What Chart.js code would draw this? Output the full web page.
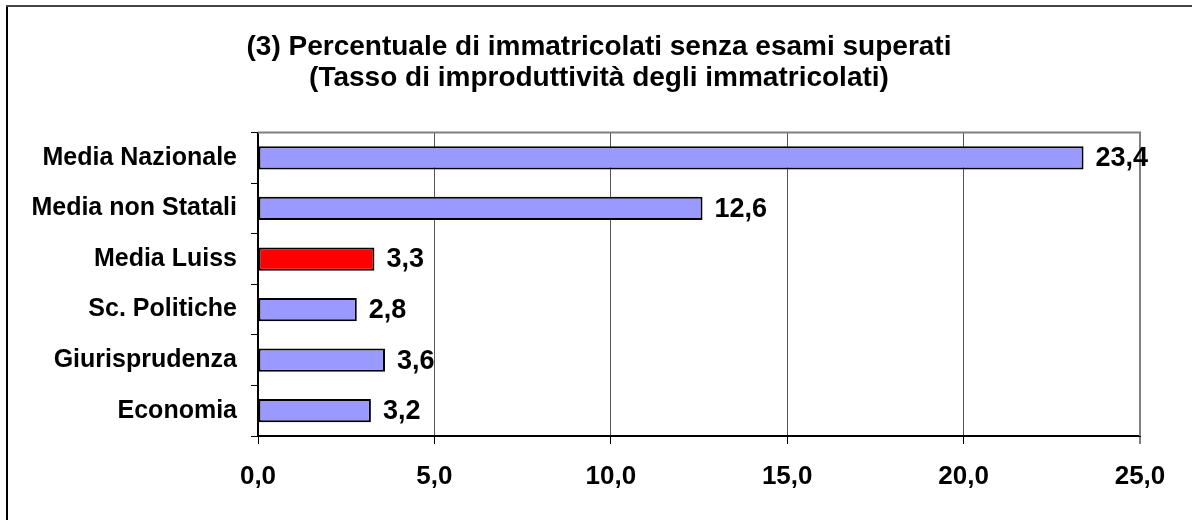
<!DOCTYPE html>
<html lang="it">
<head>
  <meta charset="UTF-8">
  <title>Tasso di improduttività</title>
  <script src="https://cdn.jsdelivr.net/npm/chart.js"></script>
  <style>
    body { margin: 0; background: #fff; }
    #wrap { width: 1192px; height: 520px; }
  </style>
</head>
<body>
  <div id="wrap"><canvas id="myChart"></canvas></div>
  <script>
    const categories = ['Media Nazionale', 'Media non Statali', 'Media Luiss', 'Sc. Politiche', 'Giurisprudenza', 'Economia'];
    const values = [23.4, 12.6, 3.3, 2.8, 3.6, 3.2];
    const barColors = ['#9999FF', '#9999FF', '#FF0000', '#9999FF', '#9999FF', '#9999FF'];
    const xTicks = [0, 5, 10, 15, 20, 25];
    const titleLines = ['(3) Percentuale di immatricolati senza esami superati', '(Tasso di improduttività degli immatricolati)'];

    const fmt = v => v.toFixed(1).replace('.', ',');
    const FONT = "'Liberation Sans', Arial, sans-serif";

    // cornice esterna + bordo grigio dell'area del grafico
    const frame = {
      id: 'frame',
      afterLayout(chart) {
        // le etichette lunghe dell'asse y non devono essere tagliate
        chart.scales.y.left = 0;
      },
      beforeDraw(chart) {
        const c = chart.ctx;
        c.save();
        c.fillStyle = '#fff';
        c.fillRect(0, 0, chart.width, chart.height);
        c.lineWidth = 2;
        c.strokeStyle = '#000';
        c.beginPath(); c.moveTo(7, chart.height); c.lineTo(7, 6); c.stroke();
        c.strokeStyle = '#444';
        c.beginPath(); c.moveTo(6, 6); c.lineTo(chart.width, 6); c.stroke();
        c.restore();
      },
      beforeDatasetsDraw(chart) {
        const a = chart.chartArea, c = chart.ctx;
        c.save();
        c.strokeStyle = '#808080';
        c.lineWidth = 2;
        c.beginPath(); c.moveTo(a.left, a.top); c.lineTo(a.right, a.top); c.lineTo(a.right, a.bottom); c.stroke();
        c.restore();
      }
    };

    // etichette dei valori a destra delle barre
    const valueLabels = {
      id: 'valueLabels',
      afterDatasetsDraw(chart) {
        const c = chart.ctx;
        const meta = chart.getDatasetMeta(0);
        c.save();
        c.font = 'bold 27px ' + FONT;
        c.fillStyle = '#000';
        c.textBaseline = 'middle';
        c.textAlign = 'left';
        meta.data.forEach((bar, i) => {
          c.fillText(fmt(values[i]), bar.x + 12, bar.y + 1);
        });
        c.restore();
      }
    };

    new Chart(document.getElementById('myChart'), {
      type: 'bar',
      data: {
        labels: categories,
        datasets: [{
          data: values,
          backgroundColor: barColors,
          borderColor: '#000',
          borderWidth: 2,
          borderSkipped: false,
          categoryPercentage: 1,
          barPercentage: 0.46
        }]
      },
      options: {
        indexAxis: 'y',
        responsive: true,
        maintainAspectRatio: false,
        animation: false,
        layout: { padding: { left: 58, right: 52, top: 0, bottom: 0 } },
        plugins: {
          legend: { display: false },
          tooltip: { enabled: false },
          title: {
            display: true,
            text: titleLines,
            color: '#000',
            font: { family: FONT, size: 28, weight: 'bold', lineHeight: 1.1 },
            padding: { top: 32, bottom: 39 }
          }
        },
        scales: {
          x: {
            min: 0,
            max: 25,
            afterBuildTicks: s => { s.ticks = xTicks.map(v => ({ value: v })); },
            afterFit: s => { s.height = 84; },
            ticks: {
              color: '#000',
              padding: 17,
              font: { family: FONT, size: 26, weight: 'bold' },
              callback: v => fmt(v)
            },
            grid: {
              color: ctx => ctx.tick && ctx.tick.value === 25 ? '#808080' : (ctx.tick && ctx.tick.value === 0 ? 'rgba(0,0,0,0)' : '#555'),
              lineWidth: ctx => ctx.tick && ctx.tick.value === 25 ? 2 : 1,
              tickColor: '#000',
              tickLength: 8,
              tickWidth: 1
            },
            border: { color: '#000', width: 2 }
          },
          y: {
            afterFit: s => { s.width = 200; },
            ticks: {
              color: '#000',
              padding: 14,
              font: { family: FONT, size: 25, weight: 'bold' }
            },
            grid: {
              offset: true,
              drawOnChartArea: false,
              tickColor: '#000',
              tickLength: 7,
              tickWidth: 1
            },
            border: { color: '#000', width: 2 }
          }
        }
      },
      plugins: [frame, valueLabels]
    });
  </script>
</body>
</html>
